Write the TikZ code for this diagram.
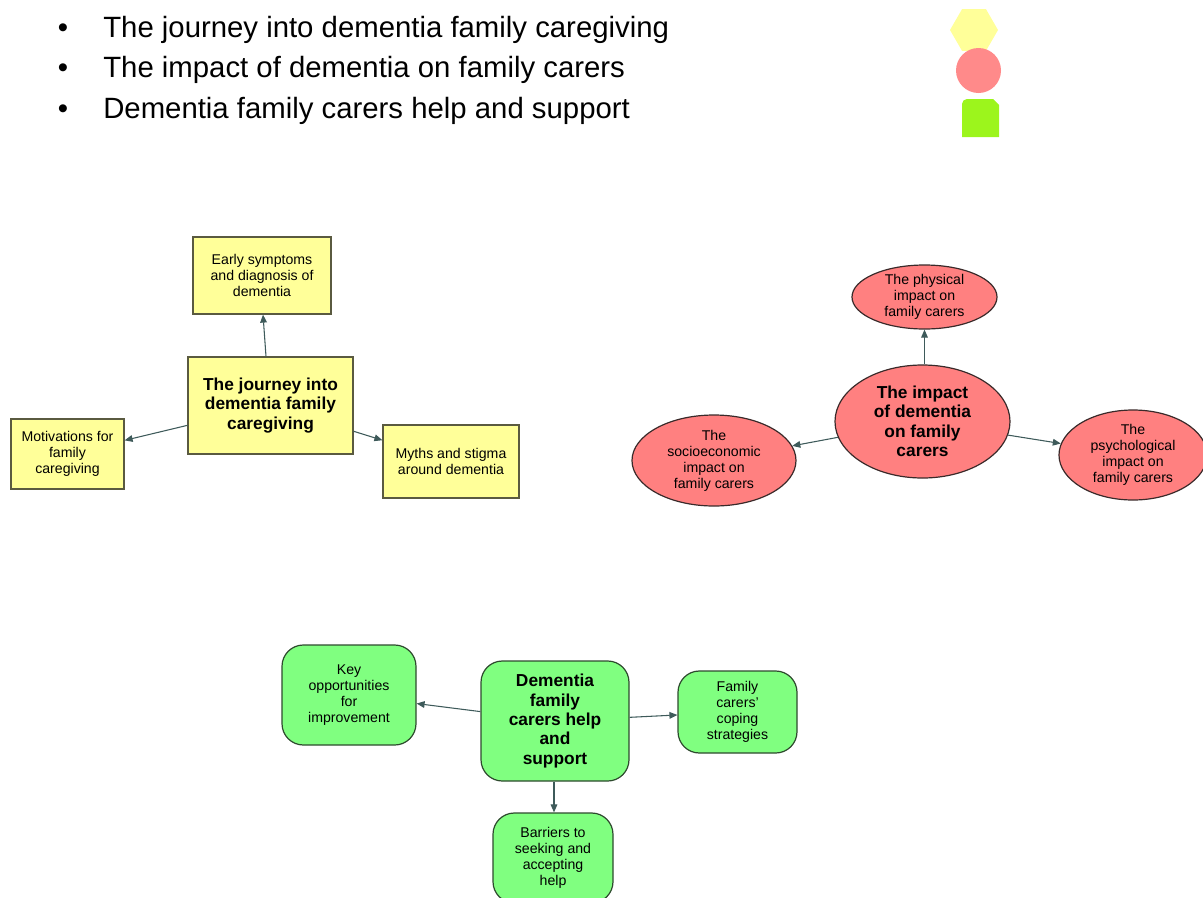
\documentclass[tikz,border=0pt]{standalone}
\usepackage{fontspec}
\setmainfont{Liberation Sans}
\usetikzlibrary{shapes.geometric,arrows.meta}
\definecolor{boxyellow}{HTML}{FFFF99}
\definecolor{boxred}{HTML}{FF8080}
\definecolor{boxgreen}{HTML}{80FF80}
\definecolor{iconred}{HTML}{FF8A8A}
\definecolor{icongreen}{HTML}{9CF51C}
\definecolor{linkcol}{HTML}{3E5A5A}
\definecolor{yedge}{HTML}{5A5A40}
\definecolor{redge}{HTML}{3A2A2A}
\definecolor{gedge}{HTML}{2E4A2E}
\tikzset{
  small/.style={font=\fontsize{10.6}{12}\selectfont, align=center, inner sep=0pt},
  big/.style={font=\bfseries\fontsize{13}{14.6}\selectfont, align=center, inner sep=0pt},
  ybox/.style={draw=yedge, line width=0.9pt, fill=boxyellow, rectangle},
  rell/.style={draw=redge, line width=0.9pt, fill=boxred, ellipse},
  gbox/.style={draw=gedge, line width=0.9pt, fill=boxgreen, rectangle, rounded corners=16pt},
  link/.style={draw=linkcol, line width=0.8pt, -{Triangle[length=6pt,width=5pt]}},
  bullettext/.style={font=\fontsize{22}{24}\selectfont, anchor=base west, inner sep=0pt},
  bulletdot/.style={font=\fontsize{22}{24}\selectfont, anchor=base, inner sep=0pt},
}
\begin{document}
\begin{tikzpicture}[x=0.75pt,y=-0.75pt]
\useasboundingbox (0,0) rectangle (1203,897);
\clip (0,0) rectangle (1203,897);

% bullet list
\node[bulletdot] (b1) at (63,37) {•};
\node[bulletdot] (b2) at (63,77) {•};
\node[bulletdot] (b3) at (63,118) {•};
\node[bullettext] (t1) at (103,37) {The journey into dementia family caregiving};
\node[bullettext] (t2) at (103,77) {The impact of dementia on family carers};
\node[bullettext] (t3) at (103,118) {Dementia family carers help and support};

% legend icons
\fill[boxyellow] (998,30) -- (986,9.2) -- (962,9.2) -- (950,30) -- (962,50.8) -- (986,50.8) -- cycle;
\fill[iconred] (978.5,70.5) circle[radius=22.5];
\fill[icongreen] (962,137) -- (962,104) arc[start angle=180, end angle=270, radius=5]
  -- (993,99) -- (999,105) -- (999,137) -- cycle;

% journey cluster
\node[ybox, big, minimum width=165*0.75pt, minimum height=97*0.75pt] (jc) at (270.5,405.5)
  {The journey into\\dementia family\\caregiving};
\node[ybox, small, minimum width=138*0.75pt, minimum height=77*0.75pt] (je) at (262,275.5)
  {Early symptoms\\and diagnosis of\\dementia};
\node[ybox, small, minimum width=113*0.75pt, minimum height=70*0.75pt] (jm) at (67.5,454)
  {Motivations for\\family\\caregiving};
\node[ybox, small, minimum width=136*0.75pt, minimum height=73*0.75pt] (js) at (451,461.5)
  {Myths and stigma\\around dementia};
\draw[link] (jc.north -| 266,0) -- (je.south -| 263,0);
\draw[link] (jc) -- (jm);
\draw[link] (jc) -- (js);

% impact cluster
\node[rell, big, minimum width=175*0.75pt, minimum height=113*0.75pt] (ic) at (922.5,421.5)
  {The impact\\of dementia\\on family\\carers};
\node[rell, small, minimum width=145*0.75pt, minimum height=64*0.75pt] (ip) at (924.5,297)
  {The physical\\impact on\\family carers};
\node[rell, small, minimum width=164*0.75pt, minimum height=91*0.75pt] (is) at (714,460.5)
  {The\\socioeconomic\\impact on\\family carers};
\node[rell, small, minimum width=148*0.75pt, minimum height=90*0.75pt] (iy) at (1133,455)
  {The\\psychological\\impact on\\family carers};
\draw[link] (ic.north -| ip.south) -- (ip.south);
\draw[link] (ic) -- (is);
\draw[link] (ic) -- (iy);

% help and support cluster
\node[gbox, big, minimum width=148*0.75pt, minimum height=120*0.75pt] (hc) at (555,721)
  {Dementia\\family\\carers help\\and\\support};
\node[gbox, small, minimum width=134*0.75pt, minimum height=100*0.75pt] (hk) at (349,695)
  {Key\\opportunities\\for\\improvement};
\node[gbox, small, minimum width=119*0.75pt, minimum height=82*0.75pt] (hf) at (737.5,712)
  {Family\\carers'\\coping\\strategies};
\node[gbox, small, minimum width=120*0.75pt, minimum height=90*0.75pt] (hb) at (553,858)
  {Barriers to\\seeking and\\accepting\\help};
\draw[link] (hc) -- (hk);
\draw[link] (hc) -- (hf);
\draw[link] (hc.south -| 554,0) -- (hb.north -| 554,0);
\end{tikzpicture}
\end{document}
